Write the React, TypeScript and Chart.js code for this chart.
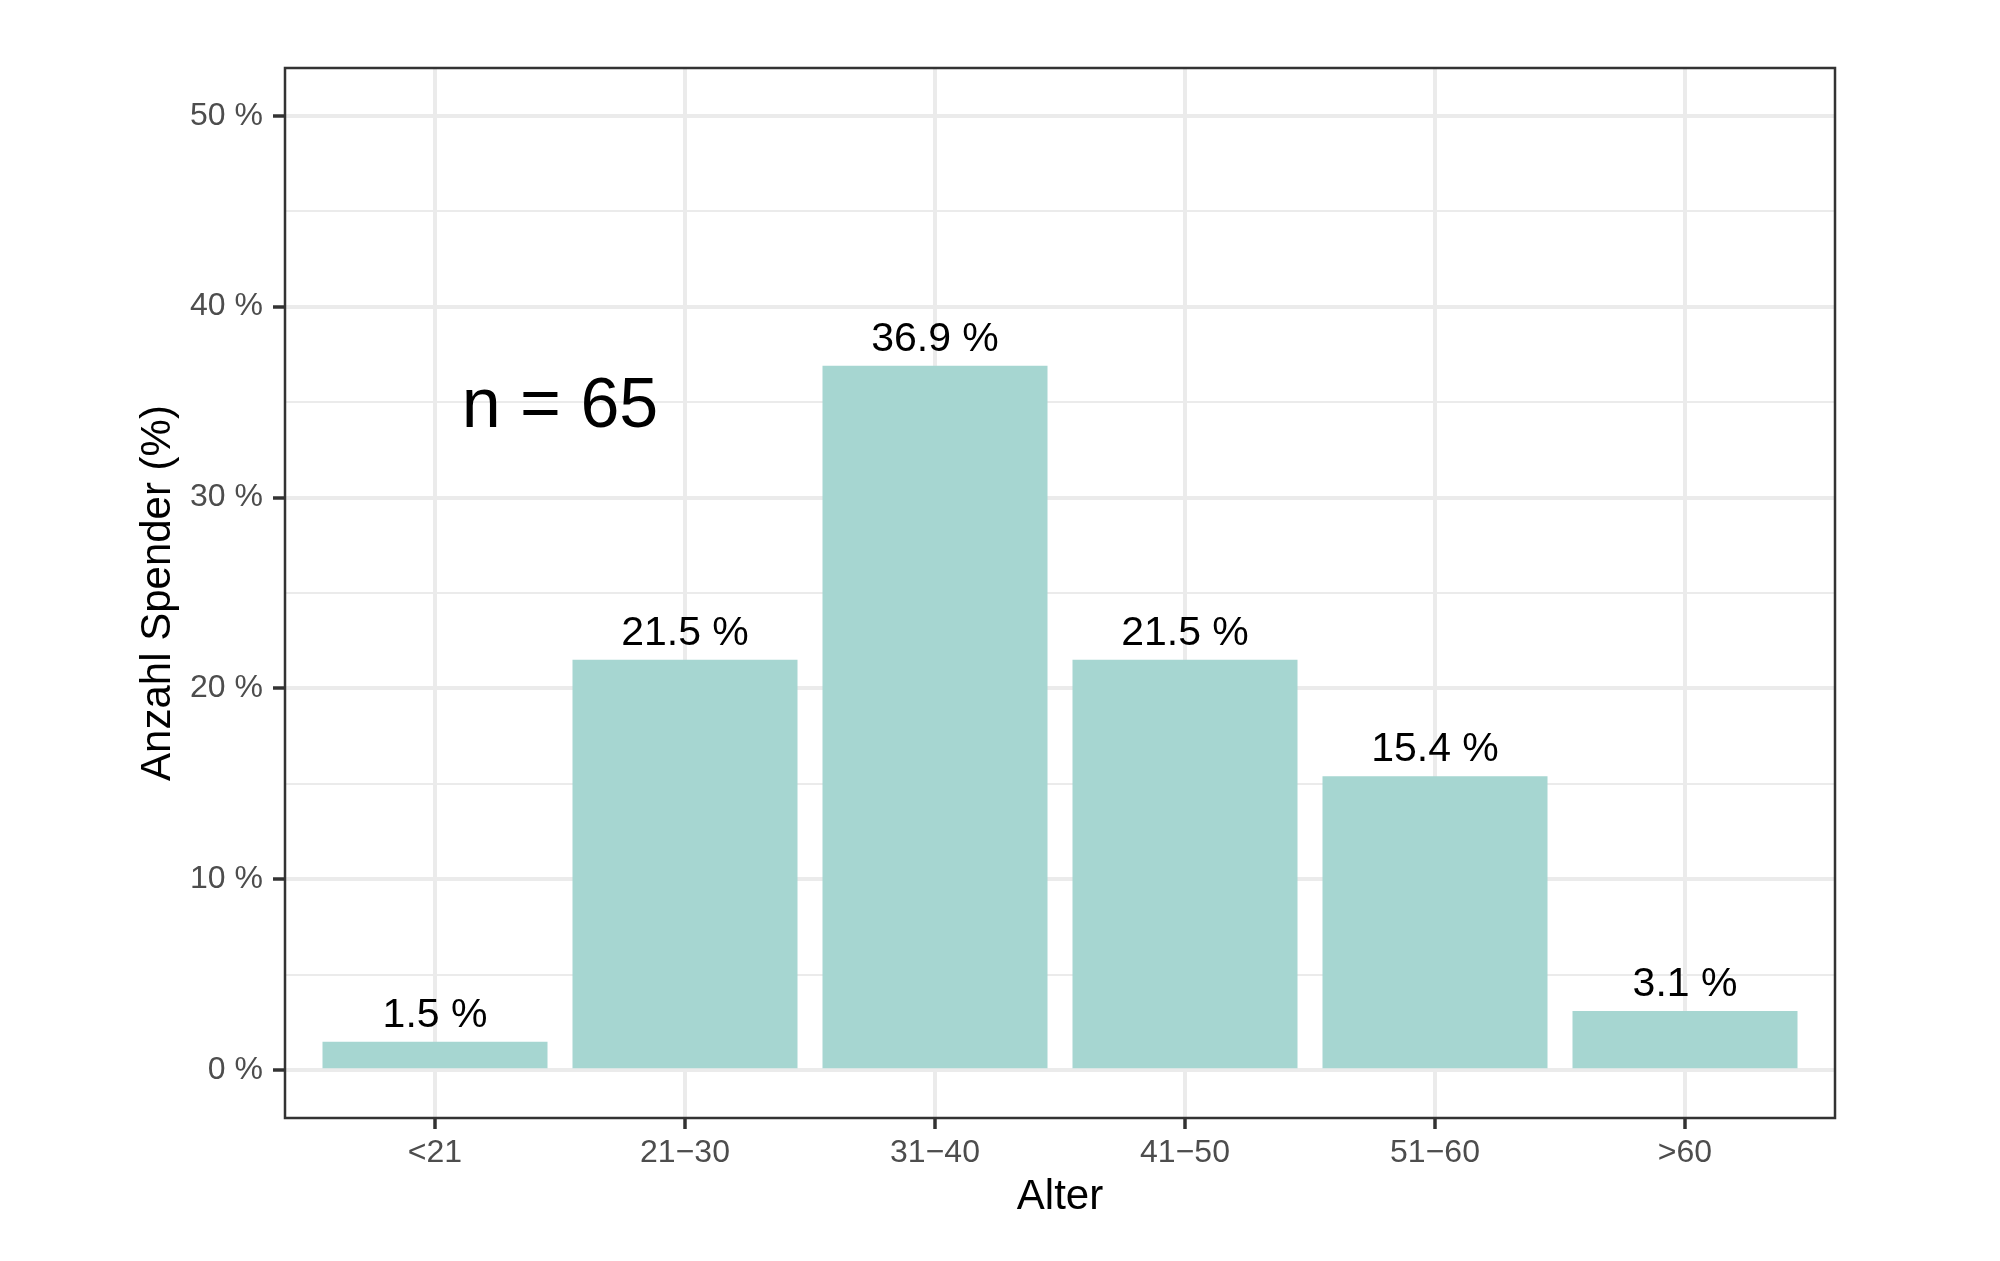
import React, { useEffect, useRef } from 'react';
import { Chart, registerables } from 'chart.js';

Chart.register(...registerables);

// Altersgruppen and their share of donors (%)
const categories = ['<21', '21−30', '31−40', '41−50', '51−60', '>60'];
const shares = [1.5, 21.5, 36.9, 21.5, 15.4, 3.1];
const yTickValues = [0, 5, 10, 15, 20, 25, 30, 35, 40, 45, 50];
const sampleSize = 65;

const FONT = "'Liberation Sans', Arial, Helvetica, sans-serif";
const BAR_COLOR = '#A6D6D1';
const GRID_COLOR = '#EBEBEB';
const DARK = '#333333';

const panelPlugin = {
  id: 'panelExtras',
  afterDatasetsDraw(chart: any) {
    const { ctx, chartArea, scales } = chart;
    const meta = chart.getDatasetMeta(0);
    ctx.save();
    // value labels above bars
    ctx.fillStyle = '#000000';
    ctx.font = `41px ${FONT}`;
    ctx.textAlign = 'center';
    ctx.textBaseline = 'alphabetic';
    meta.data.forEach((bar: any, i: number) => {
      ctx.fillText(`${shares[i].toFixed(1)} %`, bar.x, bar.y - 15);
    });
    // sample size annotation
    ctx.font = `70px ${FONT}`;
    ctx.textBaseline = 'middle';
    ctx.fillText(`n = ${sampleSize}`, scales.x.getPixelForValue(1.5), scales.y.getPixelForValue(35) + 6);
    // panel border
    ctx.strokeStyle = DARK;
    ctx.lineWidth = 2.5;
    ctx.strokeRect(chartArea.left, chartArea.top, chartArea.right - chartArea.left, chartArea.bottom - chartArea.top);
    ctx.restore();
  },
};

const App: React.FC = () => {
  const chartRef = useRef<HTMLCanvasElement>(null);
  const chartInstance = useRef<Chart | null>(null);

  useEffect(() => {
    if (!chartRef.current) return;
    if (chartInstance.current) chartInstance.current.destroy();
    const ctx = chartRef.current.getContext('2d');
    if (!ctx) return;

    chartInstance.current = new Chart(ctx, {
      type: 'bar',
      data: {
        datasets: [
          {
            data: categories.map((_, i) => ({ x: i + 1, y: shares[i] })),
            backgroundColor: BAR_COLOR,
            borderWidth: 0,
            barPercentage: 0.9,
            categoryPercentage: 1,
          },
        ],
      },
      options: {
        animation: false,
        responsive: true,
        maintainAspectRatio: false,
        devicePixelRatio: 1,
        layout: { padding: { top: 68, right: 165, left: 0, bottom: 0 } },
        plugins: {
          legend: { display: false },
          tooltip: { enabled: false },
        },
        scales: {
          x: {
            type: 'linear',
            min: 0.4,
            max: 6.6,
            offset: false,
            afterBuildTicks: (scale: any) => {
              scale.ticks = categories.map((_, i) => ({ value: i + 1 }));
            },
            afterFit: (scale: any) => {
              scale.height = 143;
            },
            border: { display: false },
            grid: {
              offset: false,
              color: GRID_COLOR,
              lineWidth: 4,
              tickColor: DARK,
              tickWidth: 3.5,
              tickLength: 11,
            },
            ticks: {
              autoSkip: false,
              maxRotation: 0,
              padding: 5,
              color: '#4D4D4D',
              font: { family: FONT, size: 32 },
              callback: (value: any) => categories[Math.round(Number(value)) - 1] ?? '',
            },
            title: {
              display: true,
              text: 'Alter',
              color: '#000000',
              font: { family: FONT, size: 42 },
              padding: { top: 0, bottom: 38 },
            },
          },
          y: {
            type: 'linear',
            min: -2.5,
            max: 52.5,
            afterBuildTicks: (scale: any) => {
              scale.ticks = yTickValues.map((v) => ({ value: v }));
            },
            afterFit: (scale: any) => {
              scale.width = 285;
            },
            border: { display: false },
            grid: {
              color: GRID_COLOR,
              lineWidth: (c: any) => (c.tick && c.tick.value % 10 === 0 ? 4 : 2),
              tickColor: (c: any) => (c.tick && c.tick.value % 10 === 0 ? DARK : 'rgba(0,0,0,0)'),
              tickWidth: 3.5,
              tickLength: 12,
            },
            ticks: {
              autoSkip: false,
              padding: 10,
              color: '#4D4D4D',
              font: { family: FONT, size: 32 },
              callback: (value: any) => (Number(value) % 10 === 0 ? `${value} %` : ''),
            },
            title: {
              display: true,
              text: 'Anzahl Spender (%)',
              color: '#000000',
              font: { family: FONT, size: 42 },
              padding: { top: 133, bottom: 0 },
            },
          },
        },
      },
      plugins: [panelPlugin],
    });

    return () => {
      if (chartInstance.current) {
        chartInstance.current.destroy();
        chartInstance.current = null;
      }
    };
  }, []);

  return (
    <div style={{ position: 'fixed', left: 0, top: 0, width: 2000, height: 1261, background: '#ffffff' }}>
      <canvas ref={chartRef}></canvas>
    </div>
  );
};

export default App;
